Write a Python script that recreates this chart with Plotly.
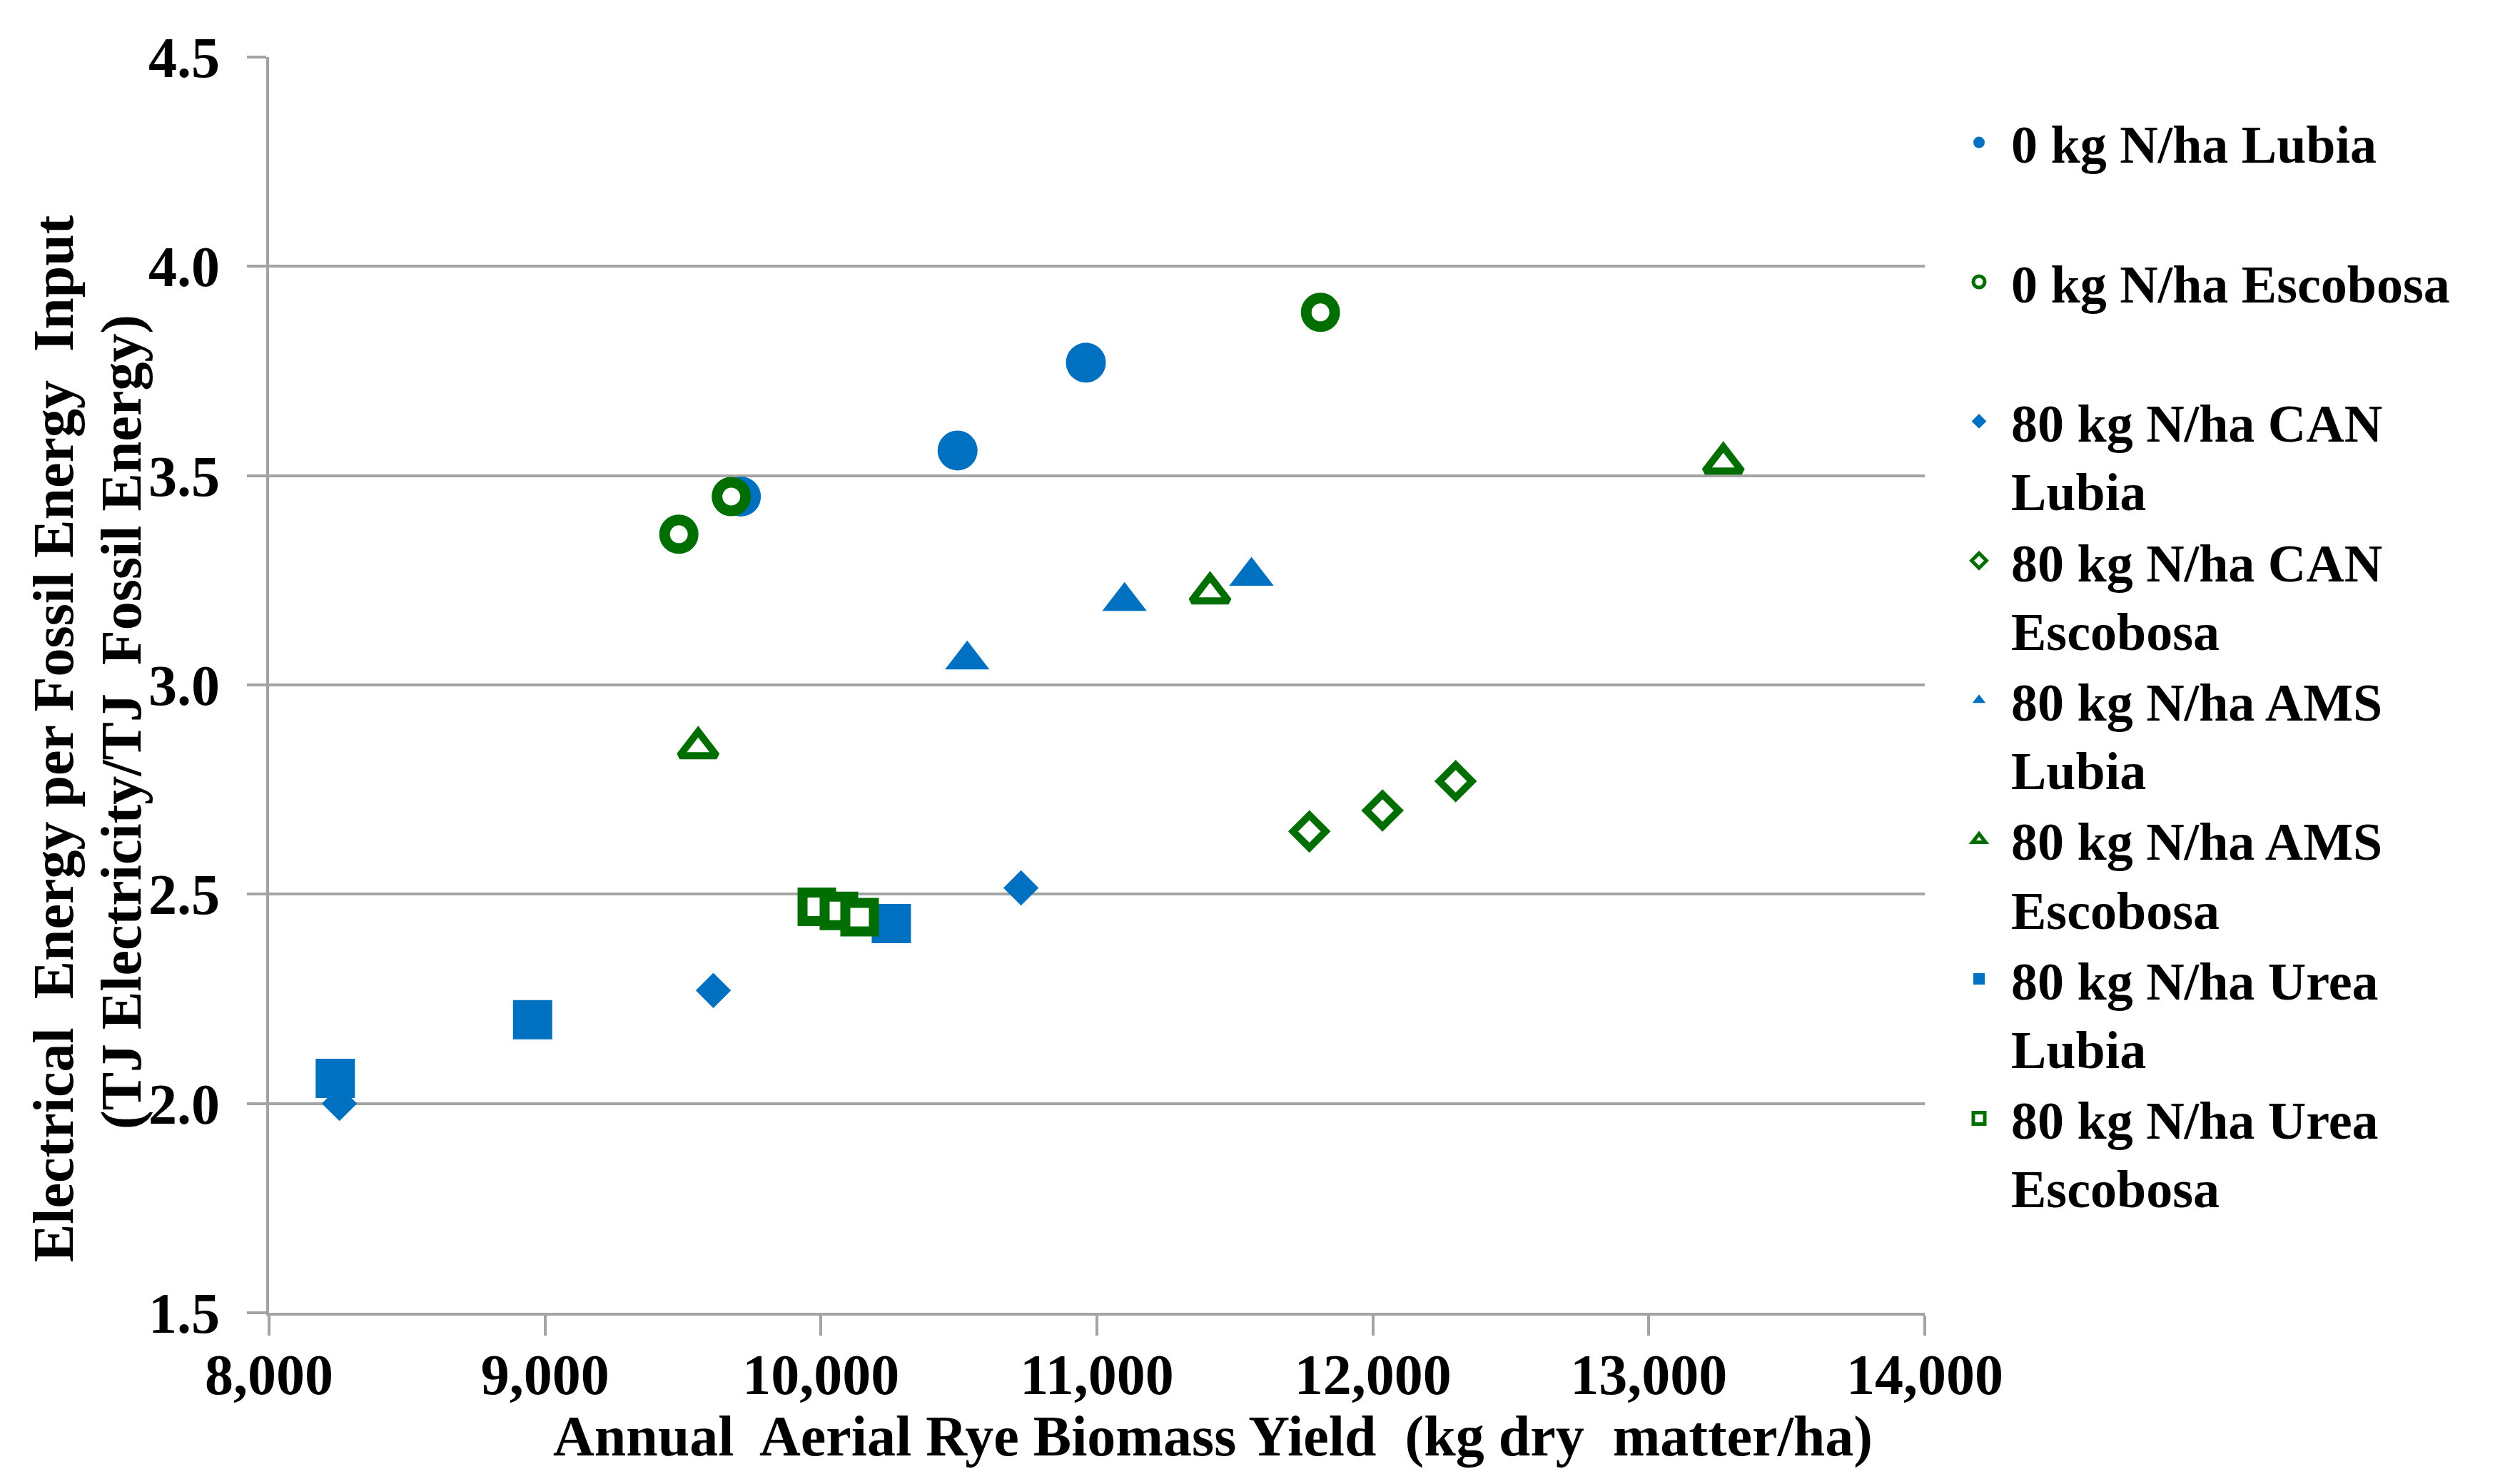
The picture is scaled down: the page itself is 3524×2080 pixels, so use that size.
import plotly.graph_objects as go

# ---- data ----
series_names = [
    "0 kg N/ha Lubia<br> ",
    "0 kg N/ha Escobosa<br> ",
    "80 kg N/ha CAN<br>Lubia",
    "80 kg N/ha CAN<br>Escobosa",
    "80 kg N/ha AMS<br>Lubia",
    "80 kg N/ha AMS<br>Escobosa",
    "80 kg N/ha Urea<br>Lubia",
    "80 kg N/ha Urea<br>Escobosa",
]

x_0_lubia = [9710, 10495, 10960]
y_0_lubia = [3.45, 3.56, 3.77]

x_0_escobosa = [9485, 9675, 11810]
y_0_escobosa = [3.36, 3.45, 3.89]

x_can_lubia = [8255, 9610, 10725]
y_can_lubia = [2.00, 2.27, 2.515]

x_can_escobosa = [11770, 12035, 12300]
y_can_escobosa = [2.65, 2.70, 2.77]

x_ams_lubia = [10530, 11100, 11560]
y_ams_lubia = [3.06, 3.20, 3.26]

x_ams_escobosa = [9555, 11410, 13270]
y_ams_escobosa = [2.85, 3.22, 3.53]

x_urea_lubia = [8240, 8955, 10255]
y_urea_lubia = [2.06, 2.20, 2.43]

x_urea_escobosa = [9985, 10065, 10140]
y_urea_escobosa = [2.47, 2.46, 2.445]

x_ticks = [8000, 9000, 10000, 11000, 12000, 13000, 14000]
y_ticks = [1.5, 2.0, 2.5, 3.0, 3.5, 4.0, 4.5]

x_title = "Annual  Aerial Rye Biomass Yield  (kg dry  matter/ha)"
y_title_line1 = "Electrical  Energy per Fossil Energy  Input"
y_title_line2 = "(TJ Electricity/TJ  Fossil Energy)"

# ---- styles ----
BLUE = "#0070C0"
GREEN = "#006E00"
GRID = "#A3A3A3"
FONT = "Liberation Serif"

xs = [x_0_lubia, x_0_escobosa, x_can_lubia, x_can_escobosa,
      x_ams_lubia, x_ams_escobosa, x_urea_lubia, x_urea_escobosa]
ys = [y_0_lubia, y_0_escobosa, y_can_lubia, y_can_escobosa,
      y_ams_lubia, y_ams_escobosa, y_urea_lubia, y_urea_escobosa]

marker_styles = [
    dict(symbol="circle", size=56, color=BLUE, line=dict(width=0)),
    dict(symbol="circle", size=40, color="white", line=dict(width=15, color=GREEN)),
    dict(symbol="diamond", size=38, color=BLUE, line=dict(width=0)),
    dict(symbol="diamond", size=35, color="white", line=dict(width=10, color=GREEN)),
    dict(symbol="triangle-up", size=54, color=BLUE, line=dict(width=0)),
    dict(symbol="triangle-up", size=45, color="white", line=dict(width=10, color=GREEN)),
    dict(symbol="square", size=55, color=BLUE, line=dict(width=0)),
    dict(symbol="square", size=40, color="white", line=dict(width=14, color=GREEN)),
]

fig = go.Figure()
for name, x, y, m in zip(series_names, xs, ys, marker_styles):
    fig.add_trace(go.Scatter(x=x, y=y, mode="markers", name=name,
                             marker=m, cliponaxis=False))

W, H = 3524, 2080
L, R, T, B = 369, 835, 72, 248
pw, ph = W - L - R, H - T - B


def px_to_paper_x(px):
    return (px - L) / pw


def px_to_paper_y(py):
    return (H - B - py) / ph


def keep_spaces(s):
    return s.replace("  ", "&nbsp; ")


fig.update_layout(
    width=W, height=H, autosize=False,
    margin=dict(l=L, r=R, t=T, b=B, pad=0),
    paper_bgcolor="white", plot_bgcolor="white",
    font=dict(family=FONT, size=80, color="black"),
    showlegend=True,
    legend=dict(
        x=px_to_paper_x(2720), xanchor="left",
        y=px_to_paper_y(137), yanchor="top",
        font=dict(family=FONT, size=74, color="black", weight="bold"),
        valign="top",
        itemwidth=80,
        bgcolor="rgba(0,0,0,0)",
        tracegroupgap=0,
    ),
    xaxis=dict(
        range=[8000, 14000],
        tickvals=x_ticks,
        tickformat=",d",
        showgrid=False, zeroline=False,
        showline=True, linecolor=GRID, linewidth=4,
        ticks="outside", ticklen=28, tickwidth=4, tickcolor=GRID,
        tickfont=dict(family=FONT, size=80, color="black", weight="bold"),
        ticklabelstandoff=-14,
    ),
    yaxis=dict(
        range=[1.5, 4.5],
        tickvals=y_ticks,
        tickformat=".1f",
        showgrid=True, gridcolor=GRID, gridwidth=4,
        zeroline=False,
        showline=True, linecolor=GRID, linewidth=4,
        ticks="outside", ticklen=27, tickwidth=4, tickcolor=GRID,
        tickfont=dict(family=FONT, size=80, color="black", weight="bold"),
        ticklabelstandoff=22,
    ),
    annotations=[
        dict(text="<b>" + keep_spaces(x_title) + "</b>", xref="paper", yref="paper",
             x=px_to_paper_x(1691), y=px_to_paper_y(2005),
             xanchor="center", yanchor="middle", showarrow=False,
             font=dict(family=FONT, size=80, color="black")),
        dict(text="<b>" + keep_spaces(y_title_line1) + "</b>", xref="paper", yref="paper",
             x=px_to_paper_x(67), y=px_to_paper_y(1027),
             xanchor="center", yanchor="middle", showarrow=False,
             textangle=-90,
             font=dict(family=FONT, size=80, color="black")),
        dict(text="<b>" + keep_spaces(y_title_line2) + "</b>", xref="paper", yref="paper",
             x=px_to_paper_x(162), y=px_to_paper_y(1004),
             xanchor="center", yanchor="middle", showarrow=False,
             textangle=-90,
             font=dict(family=FONT, size=80, color="black")),
    ],
)

fig.write_html("out.html")
